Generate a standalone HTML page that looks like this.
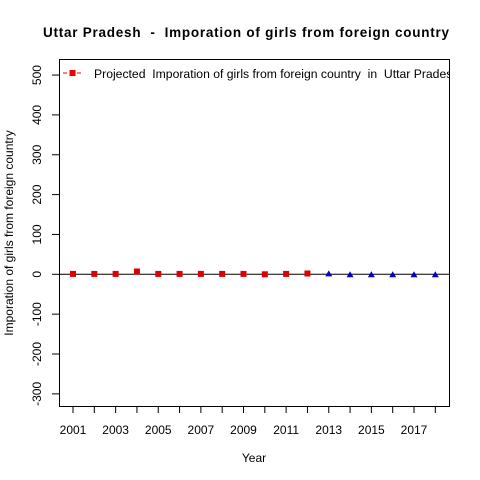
<!DOCTYPE html>
<html><head><meta charset="utf-8"><style>
body{margin:0;background:#fff;}
svg{display:block;font-family:"Liberation Sans",Arial,sans-serif;}
text{white-space:pre;}
</style></head><body>
<svg width="480" height="480" viewBox="0 0 480 480" id="chart">
<rect width="480" height="480" fill="#fff"/>
<text x="246" y="37" text-anchor="middle" font-size="13.5" font-weight="bold" textLength="406" lengthAdjust="spacing">Uttar Pradesh  -  Imporation of girls from foreign country</text>
<text x="254" y="462" text-anchor="middle" font-size="12">Year</text>
<text transform="translate(13,233) rotate(-90)" text-anchor="middle" font-size="12">Imporation of girls from foreign country</text>
<g id="axes"></g>
<g id="marks"></g>
<rect x="59.5" y="59.5" width="390" height="347" fill="none" stroke="#000"/>
<g>
<line x1="63" y1="73" x2="82" y2="73" stroke="#e00" stroke-dasharray="4,3"/>
<rect x="69.5" y="70" width="6" height="6" fill="#e00"/>
<svg x="0" y="0" width="449" height="480" overflow="hidden"><text x="94" y="78" font-size="12.2">Projected  Imporation of girls from foreign country  in  Uttar Pradesh</text></svg>
</g>
</svg>
<script>
const actualYears=[2001,2002,2003,2004,2005,2006,2007,2008,2009,2010,2011,2012];
const actualValues=[1,1,1,7,1,1,1,1,1,0,1,2];
const projYears=[2013,2014,2015,2016,2017,2018];
const projValues=[1,-1,-1,-1,-1,-1];
const yTicks=[-300,-200,-100,0,100,200,300,400,500];
const xTickYears=[2001,2002,2003,2004,2005,2006,2007,2008,2009,2010,2011,2012,2013,2014,2015,2016,2017,2018];
const xLabels=[2001,2003,2005,2007,2009,2011,2013,2015,2017];
const NS="http://www.w3.org/2000/svg";
const xs=yr=>73+(yr-2001)*(414-73)/16;
const ys=v=>274.3-v*0.3985;
function mk(t,a,p){const e=document.createElementNS(NS,t);for(const k in a)e.setAttribute(k,a[k]);p.appendChild(e);return e;}
const axes=document.getElementById('axes'),marks=document.getElementById('marks');
yTicks.forEach(v=>{
 const l=mk('line',{x1:52,x2:59.5,y1:ys(v),y2:ys(v),stroke:'#000'},axes);
 
 
 const t=mk('text',{transform:`translate(41,${ys(v)}) rotate(-90)`,'text-anchor':'middle','font-size':12},axes);
 t.textContent=v;
 
 
});
xTickYears.forEach(y=>{
 const l=mk('line',{x1:xs(y),x2:xs(y),y1:406.5,y2:413,stroke:'#000'},axes);
 
 
});
xLabels.forEach(y=>{
 const t=mk('text',{x:xs(y),y:434,'text-anchor':'middle','font-size':12},axes);
 t.textContent=y;
 
 
});
const zl=mk('line',{x1:59.5,x2:449.5,y1:ys(0),y2:ys(0),stroke:'#000'},marks);


actualYears.forEach((y,i)=>{
 const r=mk('rect',{x:xs(y)-3,y:ys(actualValues[i])-3,width:6,height:6,fill:'#d00'},marks);
 
 
});
projYears.forEach((y,i)=>{
 const cx=xs(y),cy=ys(projValues[i]);
 const p=mk('polygon',{points:`${cx-3.5},${cy+2.5} ${cx+3.5},${cy+2.5} ${cx},${cy-3.5}`,fill:'#00c'},marks);
 
 
});
</script>
</body></html>
